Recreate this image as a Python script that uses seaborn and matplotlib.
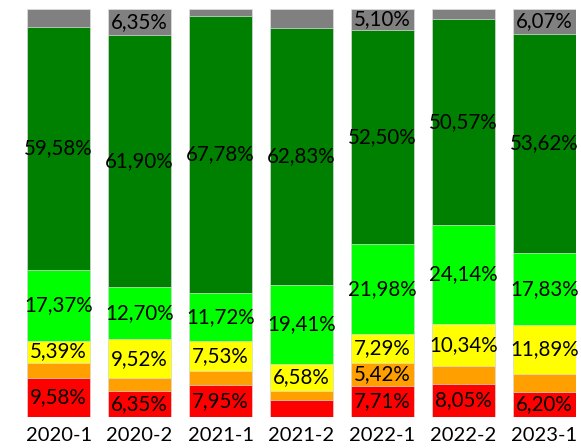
import matplotlib
matplotlib.use("Agg")
import matplotlib.pyplot as plt
import seaborn as sns
import pandas as pd
import numpy as np

categories = ["2020-1", "2020-2", "2021-1", "2021-2", "2022-1", "2022-2", "2023-1"]
red = [9.58, 6.35, 7.95, 4.20, 7.71, 8.05, 6.20]
orange = [3.77, 3.18, 3.25, 2.25, 5.42, 4.50, 4.39]
yellow = [5.39, 9.52, 7.53, 6.58, 7.29, 10.34, 11.89]
light_green = [17.37, 12.70, 11.72, 19.41, 21.98, 24.14, 17.83]
dark_green = [59.58, 61.90, 67.78, 62.83, 52.50, 50.57, 53.62]
gray = [4.31, 6.35, 1.77, 4.73, 5.10, 2.40, 6.07]

series = [red, orange, yellow, light_green, dark_green, gray]
colors = ["#FF0000", "#FFA000", "#FFFF00", "#00FF00", "#008000", "#808080"]

sns.set_theme(style="white")
plt.rcParams["font.family"] = ["Lato", "DejaVu Sans"]

fig = plt.figure(figsize=(5.81, 4.48), dpi=100)
ax = fig.add_axes([27 / 581, (448 - 417) / 448, 549 / 581, 408 / 448])

vals = np.array(series)
cum = np.cumsum(vals, axis=0)

# draw from top-most cumulative down so lower segments overlay
for i in range(len(series) - 1, -1, -1):
    df = pd.DataFrame({"cat": categories, "v": cum[i]})
    sns.barplot(data=df, x="cat", y="v", color=colors[i], width=0.78,
                edgecolor="#e0e0e0", linewidth=0.5, saturation=1, ax=ax,
                errorbar=None)

for i in range(len(series)):
    for j, cat in enumerate(categories):
        v = vals[i, j]
        if v >= 5:
            bottom = cum[i, j] - v
            ax.text(j, bottom + v / 2, f"{v:.2f}%".replace(".", ","),
                    ha="center", va="center", fontsize=14.8, color="#000000")

ax.set_xlim(-0.39, 6.39)
ax.set_ylim(0, 100)
ax.set_xlabel("")
ax.set_ylabel("")
ax.set_yticks([])
ax.tick_params(axis="x", length=0, pad=7, labelsize=14.5, labelcolor="#000000")
for s in ax.spines.values():
    s.set_visible(False)

fig.savefig("out.png", dpi=100)
